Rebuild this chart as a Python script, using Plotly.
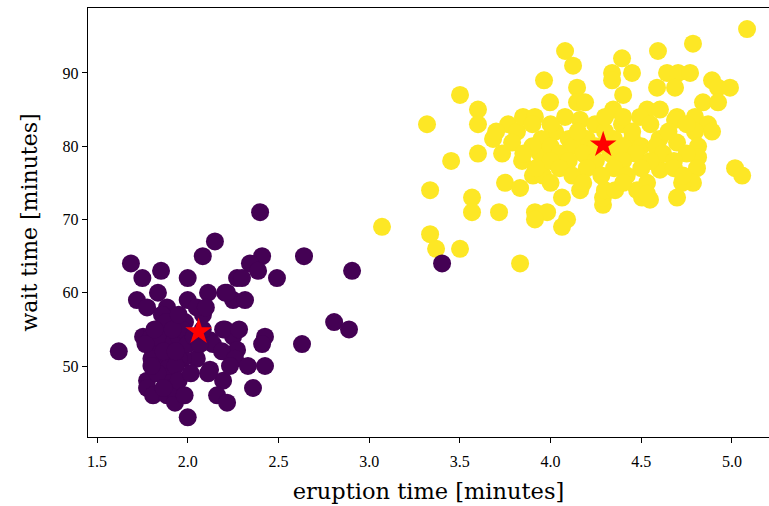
import plotly.graph_objects as go

# Old Faithful eruptions, split into two k-means clusters.
# Cluster 0: short eruptions / short waits
short_eruption = [
    1.62, 1.687, 1.72, 1.75, 1.853, 2.083, 2.0, 1.836, 1.886, 1.776,
    1.858, 2.0, 2.112, 2.206, 2.25, 2.272, 2.084, 1.985, 1.754, 1.886,
    1.902, 1.809, 2.206, 2.25, 2.123, 2.05, 1.974, 1.847, 1.886, 1.776,
    1.776, 1.809, 1.886, 1.93, 2.0, 2.123, 2.195, 2.162, 2.217, 2.25,
    2.272, 2.399, 2.15, 2.41, 2.343, 2.388, 2.299, 2.492, 2.641, 2.217,
    2.316, 2.195, 2.283, 2.426, 2.41, 2.63, 2.139, 2.189, 2.261, 2.233,
    2.332, 2.426, 2.112, 2.36, 2.807, 2.889, 2.906, 3.402,
    1.8, 1.833, 1.85, 1.9, 1.95, 1.95, 1.967, 2.0, 2.033, 1.883,
    1.917, 1.933, 2.067, 1.8, 1.867, 1.917, 1.95, 1.833, 2.083, 1.95,
    2.05, 1.767, 1.817, 1.933, 2.017, 1.867, 1.8, 1.983, 2.1,
]
short_wait = [
    52, 64, 59, 62, 63, 65, 62, 60, 58, 58,
    57, 59, 60, 60, 59, 62, 57, 56, 54, 55,
    53, 52, 55, 54, 53.5, 51, 51, 50, 48.5, 48,
    47, 46, 46, 45, 43, 49.5, 48, 46, 45, 51,
    52.2, 71, 67, 65, 64, 63, 62, 62, 65, 60,
    59, 55, 55, 54, 53, 53, 53, 52, 51, 50,
    50, 50, 49, 47, 56, 55, 63, 64,
    54, 54, 51, 50, 51, 54, 55, 53, 54, 56,
    55, 50, 53, 51, 52, 47, 48, 49, 55, 57,
    58, 53, 55, 52, 49, 47, 50, 46, 58,
]

# Cluster 1: long eruptions / long waits
long_eruption = [
    3.071, 3.319, 3.336, 3.336, 3.369, 3.501, 3.501, 3.452, 3.832, 3.567,
    3.567, 3.716, 3.6, 3.6, 3.6, 3.683, 3.733, 3.749, 3.766, 3.815,
    3.788, 3.843, 3.848, 3.914, 3.964, 3.997, 4.014, 3.942, 3.832, 3.903,
    3.959, 3.914, 3.981, 3.914, 4.091, 4.063, 4.063, 4.289, 4.289, 4.504,
    4.477, 4.163, 4.3, 4.356, 4.548, 4.08, 4.124, 4.394, 4.339, 4.449,
    4.339, 4.4, 4.592, 4.587, 4.146, 4.146, 4.19, 4.345, 4.08, 4.163,
    4.245, 4.532, 4.493, 4.025, 4.394, 4.785, 5.083, 4.642, 4.703, 4.769,
    4.89, 4.923, 4.989, 4.686, 4.84, 4.923, 4.796, 4.868, 4.89, 4.697,
    4.603, 4.686, 4.796, 4.813, 4.697, 4.813, 4.807, 4.785, 4.725, 4.697,
    5.017, 5.056, 4.603, 4.532, 4.532,
    3.95, 4.1, 4.2, 4.35, 4.45, 4.6,
    3.9, 4.0, 4.12, 4.25, 4.4, 4.5, 4.58,
    3.85, 4.05, 4.18, 4.33, 4.47, 4.62, 4.75,
    4.0, 4.1, 4.25, 4.4, 4.55, 4.68,
    3.92, 4.05, 4.2, 4.35, 4.5, 4.68,
    4.12, 4.28, 4.42, 4.73,
    4.0, 4.18, 4.4,
    3.9, 4.0, 4.55, 4.75,
    3.7, 4.15, 4.3, 4.45, 4.65,
    4.3, 4.4,
]
long_wait = [
    69, 83, 74, 68, 66, 66, 87, 78, 64, 73,
    71, 71, 85, 83, 79, 81, 79, 75, 83, 82,
    80.5, 78, 84, 84, 89, 86, 82, 79, 74.3, 76,
    76, 71, 71, 70, 70, 69, 73, 72, 73, 73,
    74, 74, 74, 74, 72.7, 93, 91, 92, 90, 90,
    89, 87, 93, 88, 88, 86, 86, 85, 84, 83.6,
    83, 85, 84, 82, 83, 94, 96, 90, 90, 90,
    89, 88, 88, 88, 86, 86, 84, 83, 82, 84,
    85, 83.6, 82, 80, 80.5, 78.5, 77, 75, 75, 73,
    77, 76, 76.8, 75, 73.5,
    81, 81, 81, 81, 81, 81,
    80, 80, 80, 80, 80, 80, 80,
    79, 79, 79, 79, 79, 79, 79,
    78, 78, 78, 78, 78, 78,
    77, 77, 77, 77, 77, 77,
    76, 76, 76, 76,
    75, 75, 75,
    83, 83, 83, 83,
    82, 82, 82, 82, 82,
    84, 84,
]

# Cluster centres
centre_eruption = [2.06, 4.29]
centre_wait = [54.7, 80.2]

x_ticks = [1.5, 2.0, 2.5, 3.0, 3.5, 4.0, 4.5, 5.0]
x_tick_text = ["1.5", "2.0", "2.5", "3.0", "3.5", "4.0", "4.5", "5.0"]
y_ticks = [50, 60, 70, 80, 90]

PURPLE = "#440154"
YELLOW = "#fde725"
TICK_FONT = "Liberation Serif"
TITLE_FONT = "DejaVu Serif"

fig = go.Figure()
fig.add_trace(go.Scatter(
    x=long_eruption, y=long_wait, mode="markers",
    marker=dict(size=18, color=YELLOW, line=dict(width=0)),
    hoverinfo="x+y", showlegend=False,
))
fig.add_trace(go.Scatter(
    x=short_eruption, y=short_wait, mode="markers",
    marker=dict(size=18, color=PURPLE, line=dict(width=0)),
    hoverinfo="x+y", showlegend=False,
))
fig.add_trace(go.Scatter(
    x=centre_eruption, y=centre_wait, mode="markers",
    marker=dict(size=20, color="#ff0000", symbol="star", line=dict(width=0)),
    hoverinfo="x+y", showlegend=False,
))

fig.update_layout(
    width=769, height=506,
    margin=dict(l=88, r=0, t=8, b=69),
    paper_bgcolor="white", plot_bgcolor="white",
    font=dict(family=TICK_FONT, color="black"),
    xaxis=dict(
        range=[1.4504, 5.204],
        tickvals=x_ticks, ticktext=x_tick_text,
        ticks="outside", ticklen=5, tickwidth=1.1, tickcolor="black",
        ticklabelstandoff=5,
        showline=True, linecolor="black", linewidth=1.4, mirror=True,
        showgrid=False, zeroline=False,
        tickfont=dict(family=TICK_FONT, size=16),
        title=dict(text="eruption time [minutes]",
                   font=dict(family=TITLE_FONT, size=22.5, weight=300), standoff=13),
    ),
    yaxis=dict(
        range=[40.31, 98.87],
        tickvals=y_ticks,
        ticks="outside", ticklen=5, tickwidth=1.1, tickcolor="black",
        showline=True, linecolor="black", linewidth=1.4, mirror=False,
        showgrid=False, zeroline=False,
        tickfont=dict(family=TICK_FONT, size=16),
        title=dict(text="wait time [minutes]",
                   font=dict(family=TITLE_FONT, size=22, weight=300), standoff=18),
    ),
)

fig.write_html("out.html")
